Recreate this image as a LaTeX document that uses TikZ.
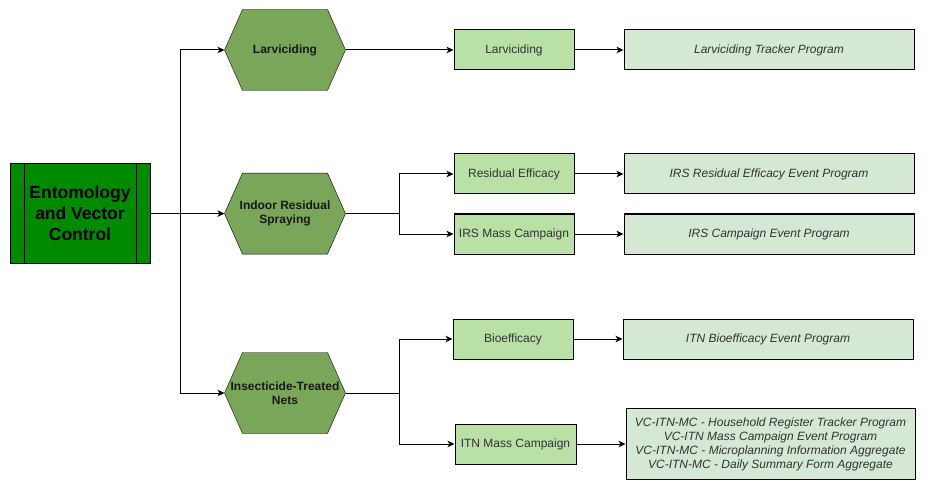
\documentclass[tikz,border=0pt]{standalone}
\usepackage{fontspec}
\setmainfont{Liberation Sans}
\usepackage{xcolor}
\usetikzlibrary{arrows.meta,backgrounds}

\definecolor{rootgreen}{HTML}{008A00}
\definecolor{hexgreen}{HTML}{7AA65A}
\definecolor{boxgreen}{HTML}{B9E0A5}
\definecolor{proggreen}{HTML}{D5E8D4}
\definecolor{txtgray}{HTML}{333333}

\begin{document}
\begin{tikzpicture}[
  x=1pt, y=-1pt,
  line width=1pt,
  >={Stealth[length=7pt,width=6.5pt,inset=2pt]},
  every node/.style={align=center, inner sep=0pt},
  root/.style={draw, fill=rootgreen, minimum width=140pt, minimum height=100pt,
    font=\fontsize{17.5}{21}\selectfont\bfseries,
    path picture={
      \draw ([xshift=14pt]path picture bounding box.north west) -- ([xshift=14pt]path picture bounding box.south west);
      \draw ([xshift=-14pt]path picture bounding box.north east) -- ([xshift=-14pt]path picture bounding box.south east);
    }},
  hexa/.style={minimum width=120pt, minimum height=80pt,
    font=\fontsize{12}{14.5}\selectfont\bfseries, text=black!90},
  hexshape/.style={draw, fill=hexgreen},
  sub/.style={draw, fill=boxgreen, minimum width=120pt, minimum height=40pt,
    font=\fontsize{12}{14}\selectfont, text=txtgray},
  prog/.style={draw, fill=proggreen, minimum width=290pt, minimum height=40pt,
    font=\fontsize{12}{14}\selectfont\itshape, text=txtgray},
]
  \useasboundingbox (0,0) rectangle (927,492);

  \node[root] (root) at (80,213.6) {Entomology\\and Vector\\Control};

  \node[hexa] (larvhex) at (285,50)    {Larviciding};
  \node[hexa] (irshex)  at (285,213.6) {Indoor Residual\\Spraying};
  \node[hexa] (itnhex)  at (285,393)   {Insecticide-Treated\\Nets};

  \node[sub] (larvbox) at (514,50)  {Larviciding};
  \node[sub] (resbox)  at (514,174) {Residual Efficacy};
  \node[sub] (irsbox)  at (514,234) {IRS Mass Campaign};
  \node[sub] (bioebox) at (513,339) {Bioefficacy};
  \node[sub, minimum width=121pt] (itnbox) at (515.5,444) {ITN Mass Campaign};

  \node[prog] (larvprog) at (769,50)  {Larviciding Tracker Program};
  \node[prog] (resprog)  at (769,174) {IRS Residual Efficacy Event Program};
  \node[prog] (irsprog)  at (769,234) {IRS Campaign Event Program};
  \node[prog] (bioeprog) at (768,339) {ITN Bioefficacy Event Program};
  \node[prog, minimum width=289pt, minimum height=71pt] (itnprog) at (770.5,444)
    {VC-ITN-MC - Household Register Tracker Program\\
     VC-ITN Mass Campaign Event Program\\
     VC-ITN-MC - Microplanning Information Aggregate\\
     VC-ITN-MC - Daily Summary Form Aggregate};

  % hexagon outlines behind the hexa nodes
  \begin{scope}[on background layer]
    \foreach \h in {larvhex,irshex,itnhex}
      \draw[hexshape] (\h.west) -- ([xshift=18pt]\h.north west) -- ([xshift=-18pt]\h.north east)
        -- (\h.east) -- ([xshift=-18pt]\h.south east) -- ([xshift=18pt]\h.south west) -- cycle;
  \end{scope}

  \coordinate (trunk)   at (180,213.6);
  \coordinate (irsfork) at (399,213.6);
  \coordinate (itnfork) at (399,393);

  \draw[->] (root) -- (irshex);
  \draw[->] (trunk) |- (larvhex);
  \draw[->] (trunk) |- (itnhex);

  \draw[->] (larvhex) -- (larvbox);
  \draw (irshex) -- (irsfork);
  \draw[->] (irsfork) |- (resbox); \draw[->] (irsfork) |- (irsbox);
  \draw (itnhex) -- (itnfork);
  \draw[->] (itnfork) |- (bioebox); \draw[->] (itnfork) |- (itnbox);

  \draw[->] (larvbox) -- (larvprog); \draw[->] (resbox) -- (resprog);
  \draw[->] (irsbox) -- (irsprog);   \draw[->] (bioebox) -- (bioeprog);
  \draw[->] (itnbox) -- (itnprog);
\end{tikzpicture}
\end{document}
